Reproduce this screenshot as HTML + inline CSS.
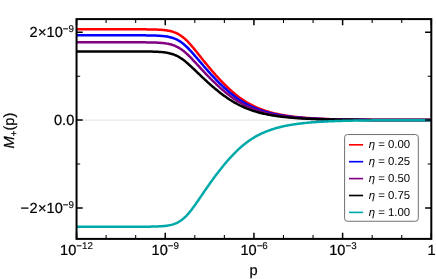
<!DOCTYPE html>
<html><head><meta charset="utf-8"><title>M+(p)</title>
<style>html,body{margin:0;padding:0;background:#fff;overflow:hidden}svg{display:block}text{font-family:"Liberation Sans",sans-serif;fill:#000;stroke:#000;stroke-width:0.22px;text-rendering:geometricPrecision}</style></head><body>
<svg width="436" height="279" viewBox="0 0 436 279">
<rect width="436" height="279" fill="#fff"/>
<line x1="76.55" y1="120.1" x2="431.3" y2="120.1" stroke="#dcdcdc" stroke-width="0.8"/>
<clipPath id="c"><rect x="76.55" y="19.1" width="354.75" height="219.8"/></clipPath>
<g clip-path="url(#c)" fill="none" stroke-width="2.5" stroke-linejoin="round">
<path d="M76.40,29.30 L77.39,29.30 L78.37,29.30 L79.36,29.30 L80.34,29.30 L81.33,29.30 L82.32,29.30 L83.30,29.30 L84.29,29.30 L85.28,29.30 L86.26,29.30 L87.25,29.30 L88.23,29.30 L89.22,29.30 L90.21,29.30 L91.19,29.30 L92.18,29.30 L93.16,29.30 L94.15,29.30 L95.14,29.30 L96.12,29.30 L97.11,29.30 L98.09,29.30 L99.08,29.30 L100.07,29.30 L101.05,29.30 L102.04,29.30 L103.03,29.30 L104.01,29.30 L105.00,29.30 L105.98,29.30 L106.97,29.30 L107.96,29.30 L108.94,29.30 L109.93,29.30 L110.91,29.30 L111.90,29.30 L112.89,29.30 L113.87,29.30 L114.86,29.30 L115.84,29.30 L116.83,29.30 L117.82,29.30 L118.80,29.30 L119.79,29.30 L120.78,29.30 L121.76,29.30 L122.75,29.30 L123.73,29.30 L124.72,29.30 L125.71,29.31 L126.69,29.31 L127.68,29.31 L128.66,29.31 L129.65,29.31 L130.64,29.31 L131.62,29.31 L132.61,29.31 L133.59,29.31 L134.58,29.32 L135.57,29.32 L136.55,29.32 L137.54,29.32 L138.53,29.33 L139.51,29.33 L140.50,29.33 L141.48,29.34 L142.47,29.34 L143.46,29.35 L144.44,29.36 L145.43,29.37 L146.41,29.37 L147.40,29.39 L148.39,29.40 L149.37,29.41 L150.36,29.43 L151.34,29.44 L152.33,29.46 L153.32,29.49 L154.30,29.51 L155.29,29.54 L156.27,29.58 L157.26,29.62 L158.25,29.66 L159.23,29.72 L160.22,29.77 L161.21,29.84 L162.19,29.92 L163.18,30.01 L164.16,30.11 L165.15,30.22 L166.14,30.35 L167.12,30.49 L168.11,30.66 L169.09,30.84 L170.08,31.05 L171.07,31.29 L172.05,31.56 L173.04,31.86 L174.03,32.19 L175.01,32.56 L176.00,32.97 L176.98,33.43 L177.97,33.93 L178.96,34.48 L179.94,35.08 L180.93,35.73 L181.91,36.43 L182.90,37.19 L183.89,37.99 L184.87,38.85 L185.86,39.76 L186.84,40.71 L187.83,41.71 L188.82,42.74 L189.80,43.82 L190.79,44.92 L191.78,46.06 L192.76,47.22 L193.75,48.40 L194.73,49.60 L195.72,50.81 L196.71,52.04 L197.69,53.27 L198.68,54.50 L199.66,55.74 L200.65,56.98 L201.64,58.22 L202.62,59.45 L203.61,60.67 L204.59,61.90 L205.58,63.11 L206.57,64.32 L207.55,65.51 L208.54,66.70 L209.53,67.88 L210.51,69.05 L211.50,70.20 L212.48,71.35 L213.47,72.49 L214.46,73.61 L215.44,74.72 L216.43,75.82 L217.41,76.91 L218.40,77.99 L219.39,79.06 L220.37,80.11 L221.36,81.15 L222.34,82.17 L223.33,83.19 L224.32,84.18 L225.30,85.17 L226.29,86.14 L227.27,87.09 L228.26,88.03 L229.25,88.95 L230.23,89.85 L231.22,90.74 L232.21,91.61 L233.19,92.46 L234.18,93.30 L235.16,94.12 L236.15,94.91 L237.14,95.70 L238.12,96.46 L239.11,97.20 L240.09,97.92 L241.08,98.63 L242.07,99.32 L243.05,99.99 L244.04,100.64 L245.03,101.27 L246.01,101.88 L247.00,102.48 L247.98,103.06 L248.97,103.62 L249.96,104.17 L250.94,104.70 L251.93,105.21 L252.91,105.71 L253.90,106.19 L254.89,106.66 L255.87,107.11 L256.86,107.55 L257.84,107.97 L258.83,108.38 L259.82,108.78 L260.80,109.16 L261.79,109.53 L262.77,109.89 L263.76,110.24 L264.75,110.57 L265.73,110.90 L266.72,111.21 L267.71,111.51 L268.69,111.81 L269.68,112.09 L270.66,112.36 L271.65,112.63 L272.64,112.88 L273.62,113.13 L274.61,113.37 L275.59,113.60 L276.58,113.82 L277.57,114.04 L278.55,114.24 L279.54,114.44 L280.52,114.64 L281.51,114.83 L282.50,115.01 L283.48,115.18 L284.47,115.35 L285.46,115.51 L286.44,115.67 L287.43,115.82 L288.41,115.97 L289.40,116.11 L290.39,116.25 L291.37,116.38 L292.36,116.51 L293.34,116.63 L294.33,116.75 L295.32,116.87 L296.30,116.98 L297.29,117.08 L298.27,117.19 L299.26,117.29 L300.25,117.38 L301.23,117.48 L302.22,117.57 L303.21,117.65 L304.19,117.74 L305.18,117.82 L306.16,117.90 L307.15,117.97 L308.14,118.05 L309.12,118.12 L310.11,118.18 L311.09,118.25 L312.08,118.31 L313.07,118.38 L314.05,118.43 L315.04,118.49 L316.02,118.55 L317.01,118.60 L318.00,118.65 L318.98,118.70 L319.97,118.75 L320.96,118.80 L321.94,118.84 L322.93,118.88 L323.91,118.93 L324.90,118.97 L325.89,119.01 L326.87,119.04 L327.86,119.08 L328.84,119.11 L329.83,119.15 L330.82,119.18 L331.80,119.21 L332.79,119.24 L333.77,119.27 L334.76,119.30 L335.75,119.33 L336.73,119.35 L337.72,119.38 L338.71,119.41 L339.69,119.43 L340.68,119.45 L341.66,119.47 L342.65,119.50 L343.64,119.52 L344.62,119.54 L345.61,119.56 L346.59,119.57 L347.58,119.59 L348.57,119.61 L349.55,119.63 L350.54,119.64 L351.53,119.66 L352.51,119.67 L353.50,119.69 L354.48,119.70 L355.47,119.72 L356.46,119.73 L357.44,119.74 L358.43,119.75 L359.41,119.77 L360.40,119.78 L361.39,119.79 L362.37,119.80 L363.36,119.81 L364.34,119.82 L365.33,119.83 L366.32,119.84 L367.30,119.85 L368.29,119.86 L369.27,119.86 L370.26,119.87 L371.25,119.88 L372.23,119.89 L373.22,119.90 L374.21,119.90 L375.19,119.91 L376.18,119.92 L377.16,119.92 L378.15,119.93 L379.14,119.93 L380.12,119.94 L381.11,119.95 L382.09,119.95 L383.08,119.96 L384.07,119.96 L385.05,119.97 L386.04,119.97 L387.02,119.97 L388.01,119.98 L389.00,119.98 L389.98,119.99 L390.97,119.99 L391.96,119.99 L392.94,120.00 L393.93,120.00 L394.91,120.01 L395.90,120.01 L396.89,120.01 L397.87,120.01 L398.86,120.02 L399.84,120.02 L400.83,120.02 L401.82,120.03 L402.80,120.03 L403.79,120.03 L404.77,120.03 L405.76,120.04 L406.75,120.04 L407.73,120.04 L408.72,120.04 L409.71,120.04 L410.69,120.05 L411.68,120.05 L412.66,120.05 L413.65,120.05 L414.64,120.05 L415.62,120.05 L416.61,120.06 L417.59,120.06 L418.58,120.06 L419.57,120.06 L420.55,120.06 L421.54,120.06 L422.52,120.06 L423.51,120.07 L424.50,120.07 L425.48,120.07 L426.47,120.07 L427.46,120.07 L428.44,120.07 L429.43,120.07 L430.41,120.07 L431.40,120.07" stroke="#ff0000"/>
<path d="M76.40,35.30 L77.39,35.30 L78.37,35.30 L79.36,35.30 L80.34,35.30 L81.33,35.30 L82.32,35.30 L83.30,35.30 L84.29,35.30 L85.28,35.30 L86.26,35.30 L87.25,35.30 L88.23,35.30 L89.22,35.30 L90.21,35.30 L91.19,35.30 L92.18,35.30 L93.16,35.30 L94.15,35.30 L95.14,35.30 L96.12,35.30 L97.11,35.30 L98.09,35.30 L99.08,35.30 L100.07,35.30 L101.05,35.30 L102.04,35.30 L103.03,35.30 L104.01,35.30 L105.00,35.30 L105.98,35.30 L106.97,35.30 L107.96,35.30 L108.94,35.30 L109.93,35.30 L110.91,35.30 L111.90,35.30 L112.89,35.30 L113.87,35.30 L114.86,35.30 L115.84,35.30 L116.83,35.30 L117.82,35.30 L118.80,35.30 L119.79,35.30 L120.78,35.30 L121.76,35.30 L122.75,35.30 L123.73,35.30 L124.72,35.31 L125.71,35.31 L126.69,35.31 L127.68,35.31 L128.66,35.31 L129.65,35.31 L130.64,35.31 L131.62,35.31 L132.61,35.31 L133.59,35.32 L134.58,35.32 L135.57,35.32 L136.55,35.32 L137.54,35.33 L138.53,35.33 L139.51,35.33 L140.50,35.34 L141.48,35.34 L142.47,35.35 L143.46,35.36 L144.44,35.36 L145.43,35.37 L146.41,35.38 L147.40,35.39 L148.39,35.41 L149.37,35.42 L150.36,35.44 L151.34,35.46 L152.33,35.48 L153.32,35.50 L154.30,35.53 L155.29,35.57 L156.27,35.60 L157.26,35.65 L158.25,35.70 L159.23,35.75 L160.22,35.82 L161.21,35.89 L162.19,35.97 L163.18,36.07 L164.16,36.17 L165.15,36.30 L166.14,36.44 L167.12,36.59 L168.11,36.77 L169.09,36.97 L170.08,37.19 L171.07,37.45 L172.05,37.73 L173.04,38.05 L174.03,38.40 L175.01,38.79 L176.00,39.22 L176.98,39.69 L177.97,40.21 L178.96,40.78 L179.94,41.39 L180.93,42.05 L181.91,42.77 L182.90,43.53 L183.89,44.33 L184.87,45.19 L185.86,46.08 L186.84,47.02 L187.83,47.99 L188.82,49.00 L189.80,50.04 L190.79,51.11 L191.78,52.20 L192.76,53.30 L193.75,54.43 L194.73,55.57 L195.72,56.71 L196.71,57.87 L197.69,59.03 L198.68,60.18 L199.66,61.34 L200.65,62.50 L201.64,63.66 L202.62,64.81 L203.61,65.95 L204.59,67.09 L205.58,68.22 L206.57,69.34 L207.55,70.45 L208.54,71.56 L209.53,72.65 L210.51,73.74 L211.50,74.81 L212.48,75.88 L213.47,76.93 L214.46,77.97 L215.44,79.01 L216.43,80.03 L217.41,81.04 L218.40,82.03 L219.39,83.02 L220.37,83.99 L221.36,84.95 L222.34,85.90 L223.33,86.83 L224.32,87.75 L225.30,88.66 L226.29,89.55 L227.27,90.42 L228.26,91.28 L229.25,92.13 L230.23,92.95 L231.22,93.76 L232.21,94.56 L233.19,95.33 L234.18,96.09 L235.16,96.84 L236.15,97.56 L237.14,98.27 L238.12,98.96 L239.11,99.63 L240.09,100.28 L241.08,100.92 L242.07,101.54 L243.05,102.14 L244.04,102.73 L245.03,103.30 L246.01,103.85 L247.00,104.39 L247.98,104.91 L248.97,105.41 L249.96,105.90 L250.94,106.37 L251.93,106.83 L252.91,107.28 L253.90,107.71 L254.89,108.13 L255.87,108.53 L256.86,108.92 L257.84,109.30 L258.83,109.66 L259.82,110.02 L260.80,110.36 L261.79,110.69 L262.77,111.01 L263.76,111.32 L264.75,111.62 L265.73,111.91 L266.72,112.19 L267.71,112.46 L268.69,112.72 L269.68,112.97 L270.66,113.21 L271.65,113.45 L272.64,113.68 L273.62,113.90 L274.61,114.11 L275.59,114.31 L276.58,114.51 L277.57,114.70 L278.55,114.89 L279.54,115.07 L280.52,115.24 L281.51,115.41 L282.50,115.57 L283.48,115.72 L284.47,115.87 L285.46,116.02 L286.44,116.16 L287.43,116.29 L288.41,116.42 L289.40,116.55 L290.39,116.67 L291.37,116.79 L292.36,116.90 L293.34,117.01 L294.33,117.12 L295.32,117.22 L296.30,117.32 L297.29,117.42 L298.27,117.51 L299.26,117.60 L300.25,117.68 L301.23,117.77 L302.22,117.85 L303.21,117.92 L304.19,118.00 L305.18,118.07 L306.16,118.14 L307.15,118.21 L308.14,118.27 L309.12,118.34 L310.11,118.40 L311.09,118.45 L312.08,118.51 L313.07,118.57 L314.05,118.62 L315.04,118.67 L316.02,118.72 L317.01,118.77 L318.00,118.81 L318.98,118.86 L319.97,118.90 L320.96,118.94 L321.94,118.98 L322.93,119.02 L323.91,119.06 L324.90,119.09 L325.89,119.13 L326.87,119.16 L327.86,119.19 L328.84,119.22 L329.83,119.25 L330.82,119.28 L331.80,119.31 L332.79,119.34 L333.77,119.36 L334.76,119.39 L335.75,119.41 L336.73,119.44 L337.72,119.46 L338.71,119.48 L339.69,119.50 L340.68,119.52 L341.66,119.54 L342.65,119.56 L343.64,119.58 L344.62,119.60 L345.61,119.62 L346.59,119.63 L347.58,119.65 L348.57,119.66 L349.55,119.68 L350.54,119.69 L351.53,119.71 L352.51,119.72 L353.50,119.73 L354.48,119.75 L355.47,119.76 L356.46,119.77 L357.44,119.78 L358.43,119.79 L359.41,119.80 L360.40,119.81 L361.39,119.82 L362.37,119.83 L363.36,119.84 L364.34,119.85 L365.33,119.86 L366.32,119.87 L367.30,119.88 L368.29,119.88 L369.27,119.89 L370.26,119.90 L371.25,119.90 L372.23,119.91 L373.22,119.92 L374.21,119.92 L375.19,119.93 L376.18,119.94 L377.16,119.94 L378.15,119.95 L379.14,119.95 L380.12,119.96 L381.11,119.96 L382.09,119.97 L383.08,119.97 L384.07,119.98 L385.05,119.98 L386.04,119.98 L387.02,119.99 L388.01,119.99 L389.00,120.00 L389.98,120.00 L390.97,120.00 L391.96,120.01 L392.94,120.01 L393.93,120.01 L394.91,120.02 L395.90,120.02 L396.89,120.02 L397.87,120.02 L398.86,120.03 L399.84,120.03 L400.83,120.03 L401.82,120.03 L402.80,120.04 L403.79,120.04 L404.77,120.04 L405.76,120.04 L406.75,120.04 L407.73,120.05 L408.72,120.05 L409.71,120.05 L410.69,120.05 L411.68,120.05 L412.66,120.06 L413.65,120.06 L414.64,120.06 L415.62,120.06 L416.61,120.06 L417.59,120.06 L418.58,120.06 L419.57,120.06 L420.55,120.07 L421.54,120.07 L422.52,120.07 L423.51,120.07 L424.50,120.07 L425.48,120.07 L426.47,120.07 L427.46,120.07 L428.44,120.07 L429.43,120.08 L430.41,120.08 L431.40,120.08" stroke="#0000ff"/>
<path d="M76.40,42.30 L77.39,42.30 L78.37,42.30 L79.36,42.30 L80.34,42.30 L81.33,42.30 L82.32,42.30 L83.30,42.30 L84.29,42.30 L85.28,42.30 L86.26,42.30 L87.25,42.30 L88.23,42.30 L89.22,42.30 L90.21,42.30 L91.19,42.30 L92.18,42.30 L93.16,42.30 L94.15,42.30 L95.14,42.30 L96.12,42.30 L97.11,42.30 L98.09,42.30 L99.08,42.30 L100.07,42.30 L101.05,42.30 L102.04,42.30 L103.03,42.30 L104.01,42.30 L105.00,42.30 L105.98,42.30 L106.97,42.30 L107.96,42.30 L108.94,42.30 L109.93,42.30 L110.91,42.30 L111.90,42.30 L112.89,42.30 L113.87,42.30 L114.86,42.30 L115.84,42.30 L116.83,42.30 L117.82,42.30 L118.80,42.30 L119.79,42.30 L120.78,42.30 L121.76,42.30 L122.75,42.30 L123.73,42.30 L124.72,42.31 L125.71,42.31 L126.69,42.31 L127.68,42.31 L128.66,42.31 L129.65,42.31 L130.64,42.31 L131.62,42.31 L132.61,42.31 L133.59,42.32 L134.58,42.32 L135.57,42.32 L136.55,42.32 L137.54,42.33 L138.53,42.33 L139.51,42.33 L140.50,42.34 L141.48,42.34 L142.47,42.35 L143.46,42.36 L144.44,42.37 L145.43,42.37 L146.41,42.39 L147.40,42.40 L148.39,42.41 L149.37,42.43 L150.36,42.44 L151.34,42.46 L152.33,42.49 L153.32,42.51 L154.30,42.54 L155.29,42.58 L156.27,42.62 L157.26,42.66 L158.25,42.71 L159.23,42.77 L160.22,42.84 L161.21,42.91 L162.19,43.00 L163.18,43.09 L164.16,43.20 L165.15,43.33 L166.14,43.47 L167.12,43.63 L168.11,43.81 L169.09,44.02 L170.08,44.25 L171.07,44.50 L172.05,44.79 L173.04,45.11 L174.03,45.46 L175.01,45.86 L176.00,46.29 L176.98,46.76 L177.97,47.27 L178.96,47.83 L179.94,48.44 L180.93,49.09 L181.91,49.78 L182.90,50.52 L183.89,51.30 L184.87,52.12 L185.86,52.97 L186.84,53.87 L187.83,54.79 L188.82,55.74 L189.80,56.72 L190.79,57.72 L191.78,58.74 L192.76,59.77 L193.75,60.82 L194.73,61.88 L195.72,62.94 L196.71,64.00 L197.69,65.07 L198.68,66.14 L199.66,67.21 L200.65,68.28 L201.64,69.34 L202.62,70.39 L203.61,71.44 L204.59,72.49 L205.58,73.52 L206.57,74.55 L207.55,75.57 L208.54,76.58 L209.53,77.59 L210.51,78.58 L211.50,79.57 L212.48,80.54 L213.47,81.50 L214.46,82.46 L215.44,83.40 L216.43,84.34 L217.41,85.26 L218.40,86.17 L219.39,87.07 L220.37,87.95 L221.36,88.83 L222.34,89.69 L223.33,90.53 L224.32,91.37 L225.30,92.19 L226.29,92.99 L227.27,93.78 L228.26,94.56 L229.25,95.32 L230.23,96.07 L231.22,96.79 L232.21,97.51 L233.19,98.20 L234.18,98.89 L235.16,99.55 L236.15,100.20 L237.14,100.83 L238.12,101.44 L239.11,102.04 L240.09,102.63 L241.08,103.19 L242.07,103.74 L243.05,104.28 L244.04,104.80 L245.03,105.30 L246.01,105.79 L247.00,106.27 L247.98,106.73 L248.97,107.17 L249.96,107.60 L250.94,108.02 L251.93,108.43 L252.91,108.82 L253.90,109.20 L254.89,109.57 L255.87,109.92 L256.86,110.27 L257.84,110.60 L258.83,110.92 L259.82,111.24 L260.80,111.54 L261.79,111.83 L262.77,112.11 L263.76,112.38 L264.75,112.65 L265.73,112.90 L266.72,113.15 L267.71,113.38 L268.69,113.61 L269.68,113.84 L270.66,114.05 L271.65,114.26 L272.64,114.46 L273.62,114.65 L274.61,114.84 L275.59,115.02 L276.58,115.19 L277.57,115.36 L278.55,115.52 L279.54,115.68 L280.52,115.83 L281.51,115.98 L282.50,116.12 L283.48,116.26 L284.47,116.39 L285.46,116.51 L286.44,116.64 L287.43,116.76 L288.41,116.87 L289.40,116.98 L290.39,117.09 L291.37,117.19 L292.36,117.29 L293.34,117.39 L294.33,117.48 L295.32,117.57 L296.30,117.66 L297.29,117.74 L298.27,117.82 L299.26,117.90 L300.25,117.98 L301.23,118.05 L302.22,118.12 L303.21,118.19 L304.19,118.25 L305.18,118.32 L306.16,118.38 L307.15,118.44 L308.14,118.49 L309.12,118.55 L310.11,118.60 L311.09,118.65 L312.08,118.70 L313.07,118.75 L314.05,118.80 L315.04,118.84 L316.02,118.89 L317.01,118.93 L318.00,118.97 L318.98,119.01 L319.97,119.04 L320.96,119.08 L321.94,119.12 L322.93,119.15 L323.91,119.18 L324.90,119.21 L325.89,119.24 L326.87,119.27 L327.86,119.30 L328.84,119.33 L329.83,119.36 L330.82,119.38 L331.80,119.41 L332.79,119.43 L333.77,119.45 L334.76,119.48 L335.75,119.50 L336.73,119.52 L337.72,119.54 L338.71,119.56 L339.69,119.58 L340.68,119.59 L341.66,119.61 L342.65,119.63 L343.64,119.64 L344.62,119.66 L345.61,119.67 L346.59,119.69 L347.58,119.70 L348.57,119.72 L349.55,119.73 L350.54,119.74 L351.53,119.76 L352.51,119.77 L353.50,119.78 L354.48,119.79 L355.47,119.80 L356.46,119.81 L357.44,119.82 L358.43,119.83 L359.41,119.84 L360.40,119.85 L361.39,119.86 L362.37,119.87 L363.36,119.87 L364.34,119.88 L365.33,119.89 L366.32,119.90 L367.30,119.90 L368.29,119.91 L369.27,119.92 L370.26,119.92 L371.25,119.93 L372.23,119.93 L373.22,119.94 L374.21,119.95 L375.19,119.95 L376.18,119.96 L377.16,119.96 L378.15,119.97 L379.14,119.97 L380.12,119.97 L381.11,119.98 L382.09,119.98 L383.08,119.99 L384.07,119.99 L385.05,119.99 L386.04,120.00 L387.02,120.00 L388.01,120.01 L389.00,120.01 L389.98,120.01 L390.97,120.01 L391.96,120.02 L392.94,120.02 L393.93,120.02 L394.91,120.03 L395.90,120.03 L396.89,120.03 L397.87,120.03 L398.86,120.04 L399.84,120.04 L400.83,120.04 L401.82,120.04 L402.80,120.04 L403.79,120.05 L404.77,120.05 L405.76,120.05 L406.75,120.05 L407.73,120.05 L408.72,120.05 L409.71,120.06 L410.69,120.06 L411.68,120.06 L412.66,120.06 L413.65,120.06 L414.64,120.06 L415.62,120.06 L416.61,120.07 L417.59,120.07 L418.58,120.07 L419.57,120.07 L420.55,120.07 L421.54,120.07 L422.52,120.07 L423.51,120.07 L424.50,120.07 L425.48,120.07 L426.47,120.08 L427.46,120.08 L428.44,120.08 L429.43,120.08 L430.41,120.08 L431.40,120.08" stroke="#800080"/>
<path d="M76.40,51.40 L77.39,51.40 L78.37,51.40 L79.36,51.40 L80.34,51.40 L81.33,51.40 L82.32,51.40 L83.30,51.40 L84.29,51.40 L85.28,51.40 L86.26,51.40 L87.25,51.40 L88.23,51.40 L89.22,51.40 L90.21,51.40 L91.19,51.40 L92.18,51.40 L93.16,51.40 L94.15,51.40 L95.14,51.40 L96.12,51.40 L97.11,51.40 L98.09,51.40 L99.08,51.40 L100.07,51.40 L101.05,51.40 L102.04,51.40 L103.03,51.40 L104.01,51.40 L105.00,51.40 L105.98,51.40 L106.97,51.40 L107.96,51.40 L108.94,51.40 L109.93,51.40 L110.91,51.40 L111.90,51.40 L112.89,51.40 L113.87,51.40 L114.86,51.40 L115.84,51.40 L116.83,51.40 L117.82,51.40 L118.80,51.40 L119.79,51.40 L120.78,51.40 L121.76,51.40 L122.75,51.40 L123.73,51.41 L124.72,51.41 L125.71,51.41 L126.69,51.41 L127.68,51.41 L128.66,51.41 L129.65,51.41 L130.64,51.41 L131.62,51.41 L132.61,51.42 L133.59,51.42 L134.58,51.42 L135.57,51.42 L136.55,51.43 L137.54,51.43 L138.53,51.43 L139.51,51.44 L140.50,51.44 L141.48,51.45 L142.47,51.45 L143.46,51.46 L144.44,51.47 L145.43,51.48 L146.41,51.49 L147.40,51.50 L148.39,51.52 L149.37,51.53 L150.36,51.55 L151.34,51.57 L152.33,51.60 L153.32,51.63 L154.30,51.66 L155.29,51.69 L156.27,51.73 L157.26,51.78 L158.25,51.84 L159.23,51.90 L160.22,51.97 L161.21,52.04 L162.19,52.13 L163.18,52.24 L164.16,52.35 L165.15,52.48 L166.14,52.63 L167.12,52.80 L168.11,52.98 L169.09,53.19 L170.08,53.43 L171.07,53.69 L172.05,53.98 L173.04,54.31 L174.03,54.66 L175.01,55.06 L176.00,55.49 L176.98,55.95 L177.97,56.46 L178.96,57.01 L179.94,57.59 L180.93,58.22 L181.91,58.88 L182.90,59.59 L183.89,60.32 L184.87,61.09 L185.86,61.89 L186.84,62.72 L187.83,63.57 L188.82,64.44 L189.80,65.33 L190.79,66.24 L191.78,67.16 L192.76,68.09 L193.75,69.03 L194.73,69.98 L195.72,70.92 L196.71,71.87 L197.69,72.82 L198.68,73.77 L199.66,74.72 L200.65,75.66 L201.64,76.59 L202.62,77.53 L203.61,78.45 L204.59,79.37 L205.58,80.29 L206.57,81.19 L207.55,82.09 L208.54,82.98 L209.53,83.86 L210.51,84.73 L211.50,85.60 L212.48,86.45 L213.47,87.30 L214.46,88.13 L215.44,88.96 L216.43,89.78 L217.41,90.58 L218.40,91.38 L219.39,92.16 L220.37,92.93 L221.36,93.69 L222.34,94.44 L223.33,95.17 L224.32,95.89 L225.30,96.60 L226.29,97.29 L227.27,97.98 L228.26,98.64 L229.25,99.29 L230.23,99.93 L231.22,100.56 L232.21,101.16 L233.19,101.76 L234.18,102.34 L235.16,102.90 L236.15,103.45 L237.14,103.99 L238.12,104.51 L239.11,105.01 L240.09,105.50 L241.08,105.98 L242.07,106.45 L243.05,106.90 L244.04,107.33 L245.03,107.76 L246.01,108.17 L247.00,108.57 L247.98,108.95 L248.97,109.33 L249.96,109.69 L250.94,110.04 L251.93,110.38 L252.91,110.71 L253.90,111.02 L254.89,111.33 L255.87,111.63 L256.86,111.92 L257.84,112.19 L258.83,112.46 L259.82,112.72 L260.80,112.97 L261.79,113.22 L262.77,113.45 L263.76,113.68 L264.75,113.90 L265.73,114.11 L266.72,114.31 L267.71,114.51 L268.69,114.70 L269.68,114.89 L270.66,115.07 L271.65,115.24 L272.64,115.41 L273.62,115.57 L274.61,115.72 L275.59,115.87 L276.58,116.02 L277.57,116.16 L278.55,116.29 L279.54,116.42 L280.52,116.55 L281.51,116.67 L282.50,116.79 L283.48,116.90 L284.47,117.01 L285.46,117.12 L286.44,117.22 L287.43,117.32 L288.41,117.41 L289.40,117.51 L290.39,117.60 L291.37,117.68 L292.36,117.76 L293.34,117.84 L294.33,117.92 L295.32,118.00 L296.30,118.07 L297.29,118.14 L298.27,118.21 L299.26,118.27 L300.25,118.33 L301.23,118.39 L302.22,118.45 L303.21,118.51 L304.19,118.56 L305.18,118.62 L306.16,118.67 L307.15,118.72 L308.14,118.77 L309.12,118.81 L310.11,118.86 L311.09,118.90 L312.08,118.94 L313.07,118.98 L314.05,119.02 L315.04,119.05 L316.02,119.09 L317.01,119.13 L318.00,119.16 L318.98,119.19 L319.97,119.22 L320.96,119.25 L321.94,119.28 L322.93,119.31 L323.91,119.34 L324.90,119.36 L325.89,119.39 L326.87,119.41 L327.86,119.44 L328.84,119.46 L329.83,119.48 L330.82,119.50 L331.80,119.52 L332.79,119.54 L333.77,119.56 L334.76,119.58 L335.75,119.60 L336.73,119.62 L337.72,119.63 L338.71,119.65 L339.69,119.66 L340.68,119.68 L341.66,119.69 L342.65,119.71 L343.64,119.72 L344.62,119.73 L345.61,119.75 L346.59,119.76 L347.58,119.77 L348.57,119.78 L349.55,119.79 L350.54,119.80 L351.53,119.81 L352.51,119.82 L353.50,119.83 L354.48,119.84 L355.47,119.85 L356.46,119.86 L357.44,119.87 L358.43,119.88 L359.41,119.88 L360.40,119.89 L361.39,119.90 L362.37,119.90 L363.36,119.91 L364.34,119.92 L365.33,119.92 L366.32,119.93 L367.30,119.94 L368.29,119.94 L369.27,119.95 L370.26,119.95 L371.25,119.96 L372.23,119.96 L373.22,119.97 L374.21,119.97 L375.19,119.98 L376.18,119.98 L377.16,119.98 L378.15,119.99 L379.14,119.99 L380.12,120.00 L381.11,120.00 L382.09,120.00 L383.08,120.01 L384.07,120.01 L385.05,120.01 L386.04,120.02 L387.02,120.02 L388.01,120.02 L389.00,120.02 L389.98,120.03 L390.97,120.03 L391.96,120.03 L392.94,120.03 L393.93,120.04 L394.91,120.04 L395.90,120.04 L396.89,120.04 L397.87,120.04 L398.86,120.05 L399.84,120.05 L400.83,120.05 L401.82,120.05 L402.80,120.05 L403.79,120.06 L404.77,120.06 L405.76,120.06 L406.75,120.06 L407.73,120.06 L408.72,120.06 L409.71,120.06 L410.69,120.06 L411.68,120.07 L412.66,120.07 L413.65,120.07 L414.64,120.07 L415.62,120.07 L416.61,120.07 L417.59,120.07 L418.58,120.07 L419.57,120.07 L420.55,120.08 L421.54,120.08 L422.52,120.08 L423.51,120.08 L424.50,120.08 L425.48,120.08 L426.47,120.08 L427.46,120.08 L428.44,120.08 L429.43,120.08 L430.41,120.08 L431.40,120.08" stroke="#000000"/>
<path d="M76.40,226.75 L77.39,226.75 L78.37,226.75 L79.36,226.75 L80.34,226.75 L81.33,226.75 L82.32,226.75 L83.30,226.75 L84.29,226.75 L85.28,226.75 L86.26,226.75 L87.25,226.75 L88.23,226.75 L89.22,226.75 L90.21,226.75 L91.19,226.75 L92.18,226.75 L93.16,226.75 L94.15,226.75 L95.14,226.75 L96.12,226.75 L97.11,226.75 L98.09,226.75 L99.08,226.75 L100.07,226.75 L101.05,226.75 L102.04,226.75 L103.03,226.75 L104.01,226.75 L105.00,226.75 L105.98,226.75 L106.97,226.75 L107.96,226.75 L108.94,226.75 L109.93,226.75 L110.91,226.75 L111.90,226.75 L112.89,226.75 L113.87,226.75 L114.86,226.75 L115.84,226.75 L116.83,226.75 L117.82,226.75 L118.80,226.75 L119.79,226.75 L120.78,226.75 L121.76,226.75 L122.75,226.75 L123.73,226.75 L124.72,226.75 L125.71,226.75 L126.69,226.74 L127.68,226.74 L128.66,226.74 L129.65,226.74 L130.64,226.74 L131.62,226.74 L132.61,226.74 L133.59,226.74 L134.58,226.74 L135.57,226.73 L136.55,226.73 L137.54,226.73 L138.53,226.73 L139.51,226.72 L140.50,226.72 L141.48,226.71 L142.47,226.71 L143.46,226.70 L144.44,226.70 L145.43,226.69 L146.41,226.68 L147.40,226.67 L148.39,226.66 L149.37,226.65 L150.36,226.63 L151.34,226.62 L152.33,226.60 L153.32,226.58 L154.30,226.55 L155.29,226.52 L156.27,226.49 L157.26,226.45 L158.25,226.41 L159.23,226.36 L160.22,226.31 L161.21,226.25 L162.19,226.18 L163.18,226.09 L164.16,226.00 L165.15,225.90 L166.14,225.78 L167.12,225.64 L168.11,225.48 L169.09,225.31 L170.08,225.11 L171.07,224.88 L172.05,224.63 L173.04,224.34 L174.03,224.02 L175.01,223.66 L176.00,223.26 L176.98,222.81 L177.97,222.31 L178.96,221.77 L179.94,221.16 L180.93,220.51 L181.91,219.79 L182.90,219.01 L183.89,218.17 L184.87,217.27 L185.86,216.31 L186.84,215.29 L187.83,214.21 L188.82,213.08 L189.80,211.90 L190.79,210.67 L191.78,209.41 L192.76,208.10 L193.75,206.76 L194.73,205.39 L195.72,204.00 L196.71,202.59 L197.69,201.17 L198.68,199.73 L199.66,198.29 L200.65,196.84 L201.64,195.39 L202.62,193.95 L203.61,192.50 L204.59,191.06 L205.58,189.63 L206.57,188.20 L207.55,186.78 L208.54,185.38 L209.53,183.98 L210.51,182.59 L211.50,181.22 L212.48,179.86 L213.47,178.51 L214.46,177.17 L215.44,175.85 L216.43,174.54 L217.41,173.24 L218.40,171.96 L219.39,170.69 L220.37,169.43 L221.36,168.19 L222.34,166.96 L223.33,165.75 L224.32,164.55 L225.30,163.37 L226.29,162.21 L227.27,161.06 L228.26,159.93 L229.25,158.82 L230.23,157.72 L231.22,156.65 L232.21,155.59 L233.19,154.55 L234.18,153.54 L235.16,152.54 L236.15,151.56 L237.14,150.61 L238.12,149.67 L239.11,148.76 L240.09,147.87 L241.08,147.00 L242.07,146.15 L243.05,145.32 L244.04,144.51 L245.03,143.73 L246.01,142.97 L247.00,142.22 L247.98,141.50 L248.97,140.80 L249.96,140.12 L250.94,139.46 L251.93,138.82 L252.91,138.20 L253.90,137.60 L254.89,137.01 L255.87,136.45 L256.86,135.90 L257.84,135.37 L258.83,134.86 L259.82,134.36 L260.80,133.88 L261.79,133.41 L262.77,132.96 L263.76,132.53 L264.75,132.10 L265.73,131.70 L266.72,131.30 L267.71,130.92 L268.69,130.55 L269.68,130.20 L270.66,129.85 L271.65,129.52 L272.64,129.20 L273.62,128.89 L274.61,128.59 L275.59,128.30 L276.58,128.01 L277.57,127.74 L278.55,127.48 L279.54,127.23 L280.52,126.99 L281.51,126.75 L282.50,126.52 L283.48,126.30 L284.47,126.09 L285.46,125.88 L286.44,125.69 L287.43,125.49 L288.41,125.31 L289.40,125.13 L290.39,124.96 L291.37,124.79 L292.36,124.63 L293.34,124.47 L294.33,124.32 L295.32,124.18 L296.30,124.04 L297.29,123.90 L298.27,123.77 L299.26,123.65 L300.25,123.53 L301.23,123.41 L302.22,123.29 L303.21,123.18 L304.19,123.08 L305.18,122.98 L306.16,122.88 L307.15,122.78 L308.14,122.69 L309.12,122.60 L310.11,122.51 L311.09,122.43 L312.08,122.35 L313.07,122.27 L314.05,122.20 L315.04,122.13 L316.02,122.06 L317.01,121.99 L318.00,121.93 L318.98,121.86 L319.97,121.80 L320.96,121.74 L321.94,121.69 L322.93,121.63 L323.91,121.58 L324.90,121.53 L325.89,121.48 L326.87,121.43 L327.86,121.39 L328.84,121.34 L329.83,121.30 L330.82,121.26 L331.80,121.22 L332.79,121.18 L333.77,121.14 L334.76,121.11 L335.75,121.07 L336.73,121.04 L337.72,121.01 L338.71,120.98 L339.69,120.95 L340.68,120.92 L341.66,120.89 L342.65,120.86 L343.64,120.84 L344.62,120.81 L345.61,120.79 L346.59,120.76 L347.58,120.74 L348.57,120.72 L349.55,120.70 L350.54,120.68 L351.53,120.66 L352.51,120.64 L353.50,120.62 L354.48,120.60 L355.47,120.58 L356.46,120.57 L357.44,120.55 L358.43,120.54 L359.41,120.52 L360.40,120.51 L361.39,120.49 L362.37,120.48 L363.36,120.47 L364.34,120.45 L365.33,120.44 L366.32,120.43 L367.30,120.42 L368.29,120.41 L369.27,120.40 L370.26,120.39 L371.25,120.38 L372.23,120.37 L373.22,120.36 L374.21,120.35 L375.19,120.34 L376.18,120.33 L377.16,120.32 L378.15,120.32 L379.14,120.31 L380.12,120.30 L381.11,120.29 L382.09,120.29 L383.08,120.28 L384.07,120.28 L385.05,120.27 L386.04,120.26 L387.02,120.26 L388.01,120.25 L389.00,120.25 L389.98,120.24 L390.97,120.24 L391.96,120.23 L392.94,120.23 L393.93,120.22 L394.91,120.22 L395.90,120.22 L396.89,120.21 L397.87,120.21 L398.86,120.20 L399.84,120.20 L400.83,120.20 L401.82,120.19 L402.80,120.19 L403.79,120.19 L404.77,120.18 L405.76,120.18 L406.75,120.18 L407.73,120.18 L408.72,120.17 L409.71,120.17 L410.69,120.17 L411.68,120.17 L412.66,120.16 L413.65,120.16 L414.64,120.16 L415.62,120.16 L416.61,120.16 L417.59,120.15 L418.58,120.15 L419.57,120.15 L420.55,120.15 L421.54,120.15 L422.52,120.14 L423.51,120.14 L424.50,120.14 L425.48,120.14 L426.47,120.14 L427.46,120.14 L428.44,120.14 L429.43,120.14 L430.41,120.13 L431.40,120.13" stroke="#00a9a9"/>
</g>
<path d="M76.55,238.9v-6.1M76.55,19.1v6.1M165.24,238.9v-6.1M165.24,19.1v6.1M253.93,238.9v-6.1M253.93,19.1v6.1M342.61,238.9v-6.1M342.61,19.1v6.1M431.30,238.9v-6.1M431.30,19.1v6.1M76.55,208.00h6.2M431.3,208.00h-6.2M76.55,120.10h6.2M431.3,120.10h-6.2M76.55,32.20h6.2M431.3,32.20h-6.2" stroke="#000" stroke-width="1.5" fill="none"/>
<path d="M106.11,238.9v-3.9M106.11,19.1v3.9M135.68,238.9v-3.9M135.68,19.1v3.9M194.80,238.9v-3.9M194.80,19.1v3.9M224.36,238.9v-3.9M224.36,19.1v3.9M283.49,238.9v-3.9M283.49,19.1v3.9M313.05,238.9v-3.9M313.05,19.1v3.9M372.18,238.9v-3.9M372.18,19.1v3.9M401.74,238.9v-3.9M401.74,19.1v3.9M76.55,164.05h3.6M431.3,164.05h-3.6M76.55,76.15h3.6M431.3,76.15h-3.6" stroke="#000" stroke-width="1.05" fill="none"/>
<rect x="76.55" y="19.1" width="354.75" height="219.8" fill="none" stroke="#000" stroke-width="2"/>
<text x="76.5" y="254.6" font-size="14.6" text-anchor="middle">10<tspan dy="-5.3" font-size="9.8" style="stroke-width:0.12px">−12</tspan></text>
<text x="165.3" y="254.6" font-size="14.6" text-anchor="middle">10<tspan dy="-5.3" font-size="9.8" style="stroke-width:0.12px">−9</tspan></text>
<text x="254.1" y="254.6" font-size="14.6" text-anchor="middle">10<tspan dy="-5.3" font-size="9.8" style="stroke-width:0.12px">−6</tspan></text>
<text x="342.9" y="254.6" font-size="14.6" text-anchor="middle">10<tspan dy="-5.3" font-size="9.8" style="stroke-width:0.12px">−3</tspan></text>
<text x="431.6" y="254.6" font-size="14.6" text-anchor="middle">1</text>
<text x="74" y="37.3" font-size="14.6" text-anchor="end">2<tspan dx="0.5">×10</tspan><tspan dy="-5.6" font-size="9.8" style="stroke-width:0.12px">−9</tspan></text>
<text x="74.3" y="125.2" font-size="14.6" text-anchor="end">0.0</text>
<text x="74" y="213.1" font-size="14.6" text-anchor="end">−<tspan dx="0.5">2</tspan><tspan dx="0.5">×10</tspan><tspan dy="-5.6" font-size="9.8" style="stroke-width:0.12px">−9</tspan></text>
<text x="253.5" y="275" font-size="14.6" text-anchor="middle">p</text>
<text transform="translate(13.9,130.6) rotate(-90)" font-size="14.6" text-anchor="middle"><tspan font-style="italic">M</tspan><tspan dy="3" font-size="9.8">+</tspan><tspan dy="-3">(p)</tspan></text>
<rect x="344.6" y="134.55" width="73.7" height="86.7" rx="2.8" ry="2.8" fill="#fff" stroke="#707070" stroke-width="1"/>
<line x1="349" y1="144.8" x2="363.1" y2="144.8" stroke="#ff0000" stroke-width="1.65"/>
<text x="368.7" y="147.9" font-size="11.4" style="stroke:none"><tspan font-style="italic">η</tspan> = 0.00</text>
<line x1="349" y1="161.7" x2="363.1" y2="161.7" stroke="#0000ff" stroke-width="1.65"/>
<text x="368.7" y="164.8" font-size="11.4" style="stroke:none"><tspan font-style="italic">η</tspan> = 0.25</text>
<line x1="349" y1="178.6" x2="363.1" y2="178.6" stroke="#800080" stroke-width="1.65"/>
<text x="368.7" y="181.7" font-size="11.4" style="stroke:none"><tspan font-style="italic">η</tspan> = 0.50</text>
<line x1="349" y1="195.5" x2="363.1" y2="195.5" stroke="#000000" stroke-width="1.65"/>
<text x="368.7" y="198.6" font-size="11.4" style="stroke:none"><tspan font-style="italic">η</tspan> = 0.75</text>
<line x1="349" y1="212.4" x2="363.1" y2="212.4" stroke="#00a9a9" stroke-width="1.65"/>
<text x="368.7" y="215.5" font-size="11.4" style="stroke:none"><tspan font-style="italic">η</tspan> = 1.00</text>
</svg></body></html>
